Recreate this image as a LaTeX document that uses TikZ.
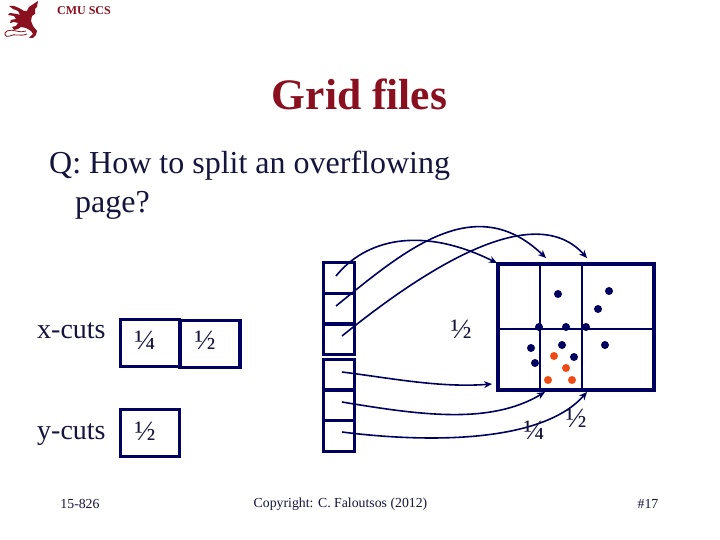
\documentclass[tikz,border=0pt]{standalone}
\usepackage{fontspec}
\usepackage{xcolor}
\usetikzlibrary{arrows.meta,positioning}
\setmainfont{Liberation Serif}
\definecolor{gnavy}{HTML}{00005E}
\definecolor{gtext}{HTML}{14143C}
\definecolor{gred}{HTML}{8A1020}
\definecolor{gorange}{HTML}{F04A14}
\tikzset{
  cell/.style={draw=gnavy,line width=3pt,minimum width=31pt,minimum height=30.5pt,inner sep=0pt},
  cutbox/.style={draw=gnavy,line width=3.4pt,inner sep=0pt},
  gridline/.style={draw=gnavy,line width=1.8pt},
  ptr/.style={draw=gnavy,line width=1.6pt,-{Stealth[length=8pt,width=7pt]}},
  dot/.style={circle,fill=gnavy,inner sep=0pt,minimum size=8pt},
  hotdot/.style={circle,fill=gorange,inner sep=0pt,minimum size=8pt},
  label/.style={font=\fontsize{28}{28}\selectfont,text=gtext,inner sep=0pt},
  frac/.style={font=\fontsize{28}{28}\selectfont,text=gtext,inner sep=0pt},
  foot/.style={font=\fontsize{13.8}{14}\selectfont,text=gtext,inner sep=0pt},
}
\begin{document}
\begin{tikzpicture}[x=1pt,y=-1pt]
  \useasboundingbox (0,0) rectangle (720,540);
  % logo
  \fill[gred] (38,1) -- (37,7) -- (35,9) -- (35,14) -- (32,16) -- (31,21) -- (33,26) -- (37,31)
    -- (36,35) -- (33,38) -- (29,38) -- (33,34) -- (31,31) -- (26,28) -- (21,27) -- (18,29) -- (14,30)
    -- (12,27) -- (16,26) -- (18,23) -- (14,22) -- (10,23) -- (11,20) -- (16,19) -- (14,16) -- (8,15)
    -- (10,13) -- (17,14) -- (20,15) -- (18,11) -- (13,9) -- (9,6) -- (14,6) -- (19,8) -- (24,11)
    -- (27,11) -- (29,7) -- cycle;
  \draw[gred,line width=.8pt] (26,31) .. controls (20,34) and (12,28) .. (7,31)
    .. controls (3,33) and (5,38) .. (10,36) .. controls (14,33) and (20,37) .. (27,34);
  \node[font=\bfseries\fontsize{12}{12}\selectfont,text=gred,inner sep=0pt] (logotext) at (84,11) {CMU SCS};
  % title and question
  \node[font=\bfseries\fontsize{43.5}{44}\selectfont,text=gred,inner sep=0pt] (title) at (359.5,94) {Grid files};
  \node[font=\fontsize{32}{32}\selectfont,text=gtext,inner sep=0pt,anchor=west] (qone) at (49,166) {Q: How to split an overflowing};
  \node[font=\fontsize{32}{32}\selectfont,text=gtext,inner sep=0pt,anchor=west] (qtwo) at (75,205) {page?};
  % cuts
  \node[label,anchor=west] (xcuts) at (37,331) {x-cuts};
  \node[label,anchor=west] (ycuts) at (37,435) {y-cuts};
  \node[cutbox,minimum width=59pt,minimum height=47pt] (xone) at (150,343) {};
  \node[cutbox,minimum width=60pt,minimum height=47pt] (xtwo) at (210,344) {};
  \node[cutbox,minimum width=59pt,minimum height=47pt] (yone) at (150,433) {};
  \node[frac] (xonefrac) at (145,340) {¼};
  \node[frac] (xtwofrac) at (205,340) {½};
  \node[frac] (yonefrac) at (145,431) {½};
  % bucket table
  \foreach \y/\n in {278/a,309/b,339/c,375/d,405/e,436/f}
    \node[cell] (cell\n) at (339,\y) {};
  \coordinate (ca) at (336,276);
  \coordinate (cb) at (336,306);
  \coordinate (cc) at (342,336);
  \coordinate (cd) at (342,372);
  \coordinate (ce) at (342,402);
  \coordinate (cf) at (342,432);
  % grid
  \node[draw=gnavy,line width=3.2pt,minimum width=156pt,minimum height=126pt,inner sep=0pt] (grid) at (576,327) {};
  \coordinate (ttop) at (540,264);
  \coordinate (tbot) at (540,390);
  \coordinate (utop) at (582,264);
  \coordinate (ubot) at (582,390);
  \coordinate (hl) at (498,329);
  \coordinate (hr) at (654,329);
  \draw[gridline] (ttop) -- (tbot);
  \draw[gridline] (utop) -- (ubot);
  \draw[gridline] (hl) -- (hr);
  \foreach \x/\y [count=\i] in {558/294,609/291,598/309,539/327,566/327,586/327,531/348,562/345,605/345,574/357,535/363}
    \node[dot] (dot\i) at (\x,\y) {};
  \foreach \x/\y [count=\i] in {554/356,566/368,548/380,572/380}
    \node[hotdot] (hot\i) at (\x,\y) {};
  % pointers
  \coordinate (ga) at (497,263);
  \coordinate (gb) at (546,258);
  \coordinate (gc) at (587,258);
  \coordinate (gd) at (492,384);
  \coordinate (ge) at (545,392);
  \coordinate (gf) at (587,392);
  \draw[ptr] (ca) .. controls (365,240) and (420,225) .. (ga);
  \draw[ptr] (cb) .. controls (405,250) and (475,190) .. (gb);
  \draw[ptr] (cc) .. controls (430,265) and (535,200) .. (gc);
  \draw[ptr] (cd) .. controls (390,378) and (440,388) .. (gd);
  \draw[ptr] (ce) .. controls (420,415) and (490,425) .. (ge);
  \draw[ptr] (cf) .. controls (420,442) and (540,445) .. (gf);
  % fractions by the grid
  \node[frac] (midfrac) at (461,329) {½};
  \node[frac] (lowfrac) at (534,430) {¼};
  \node[frac] (rightfrac) at (576,418) {½};
  % footer
  \node[foot] (course) at (80,504) {15-826};
  \node[foot] (copyright) at (340.5,504) {Copyright: C. Faloutsos (2012)};
  \node[foot] (slideno) at (648,504) {\#17};
\end{tikzpicture}
\end{document}
